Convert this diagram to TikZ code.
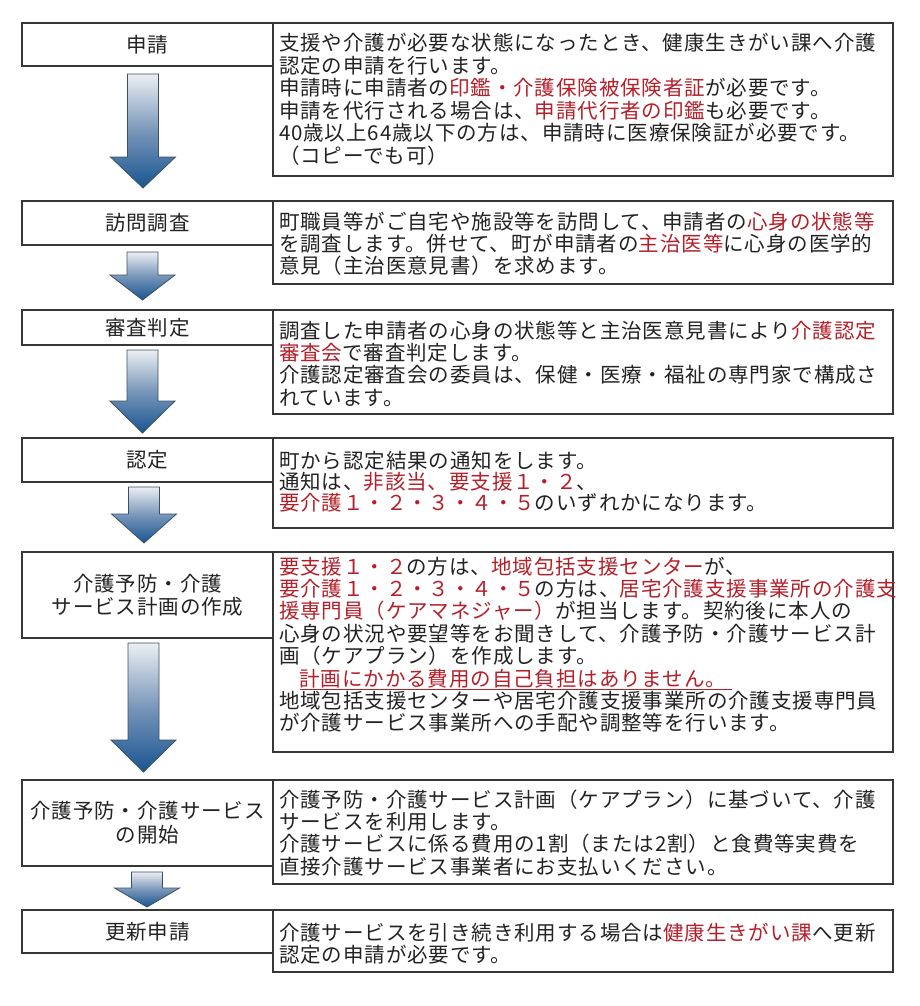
\documentclass[tikz,border=0pt]{standalone}
\usepackage{fontspec}
\newfontfamily\jp{Noto Sans CJK JP}[LetterSpace=4.4]
\usetikzlibrary{calc}
\definecolor{ink}{RGB}{35,35,35}
\definecolor{kred}{RGB}{180,32,42}
\definecolor{frame}{RGB}{55,55,55}
\definecolor{atop}{RGB}{236,239,243}
\definecolor{amid}{RGB}{120,150,185}
\definecolor{abot}{RGB}{25,85,145}
\definecolor{aline}{RGB}{60,80,100}
\newcommand\rd[1]{\textcolor{kred}{#1}}
\newcommand\blockarrow[6]{%
  \path[barrow] let \p1=(#1.south), \p2=(#2.north) in
    ({\x1+(#3pt)-15.5pt},{\y1-#4pt}) -- ({\x1+(#3pt)+15.5pt},{\y1-#4pt})
    -- ({\x1+(#3pt)+15.5pt},{\y2+#5pt+#6pt}) -- ({\x1+(#3pt)+32.5pt},{\y2+#5pt+#6pt})
    -- ({\x1+(#3pt)},{\y2+#5pt}) -- ({\x1+(#3pt)-32.5pt},{\y2+#5pt+#6pt})
    -- ({\x1+(#3pt)-15.5pt},{\y2+#5pt+#6pt}) -- cycle;}
\begin{document}
\begin{tikzpicture}[x=1pt,y=-1pt,
  lbox/.style={draw=frame, line width=1.4pt, fill=white, inner sep=0pt, outer sep=0pt,
    minimum width=251pt, anchor=north west, align=center,
    font=\jp\fontsize{20.5}{23}\selectfont, text=ink},
  rbox/.style={draw=frame, line width=1.4pt, fill=white, inner sep=0pt, outer sep=0pt,
    minimum width=620pt, anchor=north west},
  rtxt/.style={inner sep=0pt, outer sep=0pt, anchor=north west, align=left,
    font=\jp\fontsize{20.5}{22.4}\selectfont, text=ink},
  barrow/.style={draw=aline, line width=0.8pt, top color=atop, bottom color=abot, middle color=amid}]
\useasboundingbox (0,0) rectangle (920,1006);
\fill[white] (0,0) rectangle (920,1006);

% step 1
\node[rbox, minimum height=153pt] (r1) at (273,23) {};
\node[lbox, minimum height=43pt] (l1) at (22,23) {申請};
\node[rtxt] (t1) at ([xshift=6pt,yshift=-9pt]r1.north west) {\rule{0pt}{19pt}支援や介護が必要な状態になったとき、健康生きがい課へ介護\\
認定の申請を行います。\\
申請時に申請者の\rd{印鑑・介護保険被保険者証}が必要です。\\
申請を代行される場合は、\rd{申請代行者の印鑑}も必要です。\\
40歳以上64歳以下の方は、申請時に医療保険証が必要です。\\
（コピーでも可）};

% step 2
\node[rbox, minimum height=83pt] (r2) at (273,201) {};
\node[lbox, minimum height=44pt] (l2) at (22,201) {訪問調査};
\node[rtxt] (t2) at ([xshift=6pt,yshift=-9pt]r2.north west) {\rule{0pt}{19pt}町職員等がご自宅や施設等を訪問して、申請者の\rd{心身の状態等}\\
を調査します。併せて、町が申請者の\rd{主治医等}に心身の医学的\\
意見（主治医意見書）を求めます。};

% step 3
\node[rbox, minimum height=104pt] (r3) at (273,310) {};
\node[lbox, minimum height=35pt] (l3) at (22,310) {審査判定};
\node[rtxt] (t3) at ([xshift=6pt,yshift=-9pt]r3.north west) {\rule{0pt}{19pt}調査した申請者の心身の状態等と主治医意見書により\rd{介護認定}\\
\rd{審査会}で審査判定します。\\
介護認定審査会の委員は、保健・医療・福祉の専門家で構成さ\\
れています。};

% step 4
\node[rbox, minimum height=90pt] (r4) at (273,438) {};
\node[lbox, minimum height=44pt] (l4) at (22,438) {認定};
\node[rtxt, font=\jp\fontsize{20.5}{21}\selectfont] (t4) at ([xshift=6pt,yshift=-11pt]r4.north west) {\rule{0pt}{19pt}町から認定結果の通知をします。\\
通知は、\rd{非該当、要支援１・２}、\\
\rd{要介護１・２・３・４・５}のいずれかになります。};

% step 5
\node[rbox, minimum height=200pt] (r5) at (273,552) {};
\node[lbox, minimum height=86pt] (l5) at (22,552) {介護予防・介護\\サービス計画の作成};
\node[rtxt] (t5) at ([xshift=6pt,yshift=-3pt]r5.north west) {\rule{0pt}{19pt}\rd{要支援１・２}の方は、\rd{地域包括支援センター}が、\\
\rd{要介護１・２・３・４・５}の方は、\rd{居宅介護支援事業所の介護支}\\
\rd{援専門員（ケアマネジャー）}が担当します。契約後に本人の\\
心身の状況や要望等をお聞きして、介護予防・介護サービス計\\
画（ケアプラン）を作成します。\\
　\rd{\underline{計画にかかる費用の自己負担はありません。\hspace{6pt}}}\\
地域包括支援センターや居宅介護支援事業所の介護支援専門員\\
が介護サービス事業所への手配や調整等を行います。};

% step 6
\node[rbox, minimum height=104pt] (r6) at (273,780) {};
\node[lbox, minimum height=86pt, font=\jp\fontsize{20.5}{24}\selectfont] (l6) at (22,780) {介護予防・介護サービス\\の開始};
\node[rtxt] (t6) at ([xshift=6pt,yshift=-8pt]r6.north west) {\rule{0pt}{19pt}介護予防・介護サービス計画（ケアプラン）に基づいて、介護\\
サービスを利用します。\\
介護サービスに係る費用の1割（または2割）と食費等実費を\\
直接介護サービス事業者にお支払いください。};

% step 7
\node[rbox, minimum height=62pt] (r7) at (273,910) {};
\node[lbox, minimum height=43pt] (l7) at (22,910) {更新申請};
\node[rtxt] (t7) at ([xshift=6pt,yshift=-11pt]r7.north west) {\rule{0pt}{19pt}介護サービスを引き続き利用する場合は\rd{健康生きがい課}へ更新\\
認定の申請が必要です。};

% arrows
\blockarrow{l1}{l2}{-4.5}{8}{13}{31}
\blockarrow{l2}{l3}{-5}{7}{10}{25}
\blockarrow{l3}{l4}{-5}{5}{5}{32}
\blockarrow{l4}{l5}{-3.5}{5}{9}{29}
\blockarrow{l5}{l6}{-4}{5}{8}{32}
\blockarrow{l6}{l7}{-0.5}{6}{3}{19}
\end{tikzpicture}
\end{document}
